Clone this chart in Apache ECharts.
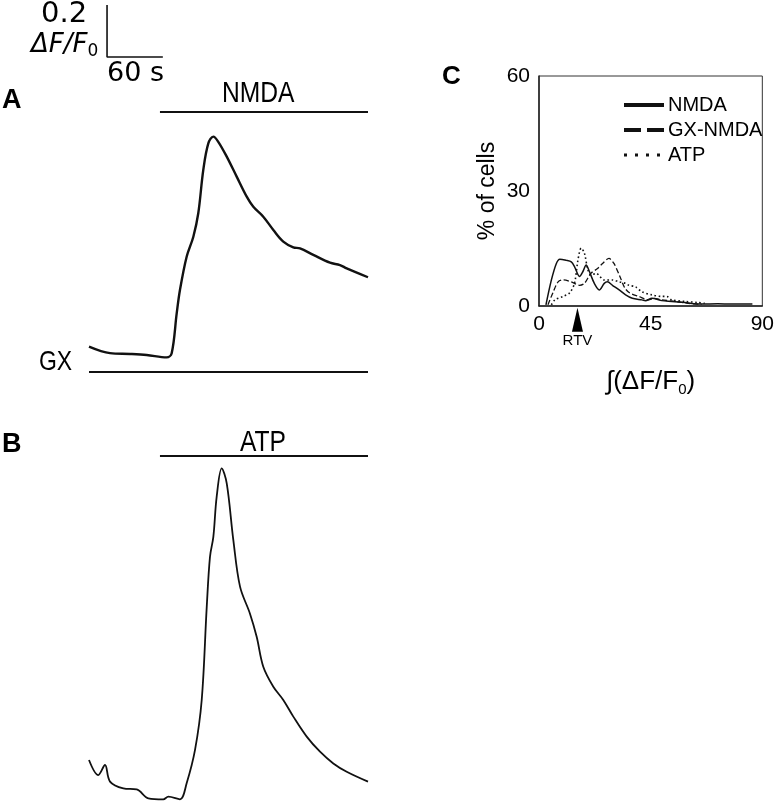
<!DOCTYPE html>
<html>
<head>
<meta charset="utf-8">
<script src="https://cdn.jsdelivr.net/npm/echarts@6/dist/echarts.min.js"></script>
<style>html,body{margin:0;padding:0;background:#fff}#c{width:777px;height:803px}</style>
</head>
<body>
<div id="c"></div>
<script>
// ---------- Panel A: NMDA trace (time s, F/F0) ----------
const timeA = [0, 22.6, 44.1, 62, 83.5, 88.9, 94.3, 97.8, 105, 112.2, 117.5, 122.9, 128.3, 133.7, 139, 148.1, 158.8, 169.6, 176.7, 187.4, 198.2, 208.9, 219.7, 226.9, 241.2, 259.1, 269.9, 277.1, 300];
const nmdaTrace = [1.032, 1.007, 1.004, 1.000, 0.991, 1.007, 1.160, 1.250, 1.378, 1.455, 1.545, 1.712, 1.814, 1.840, 1.820, 1.763, 1.686, 1.609, 1.570, 1.532, 1.481, 1.436, 1.414, 1.410, 1.385, 1.355, 1.346, 1.333, 1.299];
const nmdaPeriod = [76.3, 300];
const gxPeriod = [0, 300];

// ---------- Panel B: ATP trace ----------
const timeB = [0, 10, 17.2, 22.6, 36.9, 51.3, 63.8, 79.9, 85.3, 97.8, 105, 114, 121.2, 126.6, 130.1, 133.7, 137.3, 142.7, 148.1, 155.2, 162.4, 173.1, 180.3, 187.4, 198.2, 208.9, 219.7, 234.1, 248.4, 262.7, 277.1, 300];
const atpTrace = [1.151, 1.093, 1.132, 1.068, 1.042, 1.038, 1.004, 1.000, 1.010, 1.000, 1.062, 1.190, 1.382, 1.740, 1.933, 2.009, 2.164, 2.273, 2.215, 1.997, 1.818, 1.714, 1.625, 1.510, 1.433, 1.382, 1.318, 1.241, 1.183, 1.138, 1.106, 1.068];
const atpPeriod = [76.3, 300];

// ---------- Scale bar ----------
const scaleAmp = 0.2;   // ΔF/F0
const scaleTime = 60;   // s

// ---------- Panel C: distributions ----------
const histNmdaX = [2.8, 5.0, 7.0, 8.4, 11.0, 13.0, 14.3, 16.3, 17.7, 19.0, 20.3, 22.3, 24.3, 26.3, 27.6, 29.6, 32.3, 34.9, 37.6, 41.5, 42.9, 45.5, 49.5, 53.5, 58.8, 65.5, 72.1, 77.4, 84, 86];
const histNmdaY = [0.3, 6.8, 11.1, 12.2, 11.9, 11.5, 10.3, 7.7, 9.0, 10.7, 9.0, 5.9, 4.2, 5.9, 6.3, 5.4, 4.2, 2.9, 2.0, 1.6, 1.4, 2.0, 1.4, 1.2, 0.9, 0.5, 0.6, 0.5, 0.5, 0.5];
const histGxX = [3.6, 5.7, 7.7, 9.7, 13.0, 16.3, 18.3, 20.9, 23.6, 25.6, 28.2, 30.2, 32.6, 34.6, 36.6, 40.2, 44.2, 46.2, 49.5, 54.8, 60.1, 65.5];
const histGxY = [0.3, 3.6, 6.3, 6.8, 6.3, 5.4, 5.9, 8.5, 9.8, 11.1, 12.4, 11.1, 7.7, 4.7, 3.4, 2.5, 1.6, 2.0, 1.6, 1.2, 0.7, 0.4];
const histAtpX = [5.0, 6.4, 9.7, 12.3, 14.3, 15.7, 17.0, 18.3, 19.7, 21.0, 23.0, 26.3, 29.6, 32.3, 34.9, 36.3, 38.9, 41.5, 45.5, 49.5, 51.5, 53.5, 58.8, 64.1, 66.8];
const histAtpY = [0.3, 1.6, 2.5, 3.4, 5.9, 12.0, 15.1, 13.8, 9.4, 8.1, 8.5, 6.8, 6.8, 6.3, 5.9, 5.4, 5.0, 3.7, 2.9, 2.5, 2.5, 1.6, 1.2, 0.9, 0.7];
const rtvValue = 15.5;
const xTicksC = [0, 45, 90];
const yTicksC = [0, 30, 60];

const zip = (xs, ys) => xs.map((x, i) => [x, ys[i]]);
const F = "'Liberation Sans', Arial, sans-serif";
const D = "'DejaVu Sans', sans-serif";
const black = '#111';

const chart = echarts.init(document.getElementById('c'), null, {renderer: 'canvas'});

const nmdaLevel = 1.935, gxLevel = 0.935, atpLevel = 2.32;
const sbT0 = 19.4, sbV0 = 2.146;

chart.setOption({
  animation: false,
  backgroundColor: '#fff',
  grid: [
    {left: 89, width: 279, top: 121, height: 260},
    {left: 89, width: 279, top: 435.3, height: 366.6},
    {left: 539, right: 12, top: 76, height: 230, show: true, borderColor: '#333', borderWidth: 1}
  ],
  xAxis: [
    {gridIndex: 0, type: 'value', min: 0, max: 300, show: false},
    {gridIndex: 1, type: 'value', min: 0, max: 300, show: false},
    {gridIndex: 2, type: 'value', min: xTicksC[0], max: xTicksC[2], interval: 45,
     axisLine: {show: true, lineStyle: {color: '#222', width: 1.5}}, axisTick: {show: false}, splitLine: {show: false},
     axisLabel: {color: '#000', fontSize: 21, fontFamily: F, margin: 8},
     name: '{a|∫(ΔF/F}{s|0}{a|)}', nameLocation: 'middle', nameGap: 61,
     nameTextStyle: {rich: {a: {fontSize: 26, fontFamily: F, color: '#000'}, s: {fontSize: 15, fontFamily: F, color: '#000', verticalAlign: 'bottom', padding: [15, 0, 0, 0]}}}}
  ],
  yAxis: [
    {gridIndex: 0, type: 'value', min: 0.9, max: 1.9, show: false},
    {gridIndex: 1, type: 'value', min: 0.99, max: 2.4, show: false},
    {gridIndex: 2, type: 'value', min: yTicksC[0], max: yTicksC[2], interval: 30,
     axisLine: {show: true, lineStyle: {color: '#222', width: 1.5}}, axisTick: {show: false}, splitLine: {show: false},
     axisLabel: {color: '#000', fontSize: 21, fontFamily: F, margin: 9},
     name: '% of cells', nameLocation: 'middle', nameGap: 40, nameRotate: 90,
     nameTextStyle: {color: '#000', fontSize: 23, fontFamily: F}}
  ],
  legend: {
    left: 617, top: 90, orient: 'vertical', itemWidth: 40, itemHeight: 14, itemGap: 5,
    itemStyle: {color: 'rgba(0,0,0,0)', borderWidth: 0, opacity: 0},
    data: [
      {name: 'NMDA', lineStyle: {width: 4, type: 'solid', color: black}},
      {name: 'GX-NMDA', lineStyle: {width: 4, type: [17, 6], color: black}},
      {name: 'ATP', lineStyle: {width: 3, type: [3, 8], color: black}}
    ],
    textStyle: {color: '#000', fontSize: 20, fontFamily: F, padding: [0, 0, 0, -1]}
  },
  series: [
    {type: 'line', xAxisIndex: 0, yAxisIndex: 0, data: zip(timeA, nmdaTrace), smooth: 0.35, showSymbol: false,
     lineStyle: {color: black, width: 2.4}},
    {type: 'line', xAxisIndex: 0, yAxisIndex: 0, clip: false, data: nmdaPeriod.map(t => [t, nmdaLevel]), showSymbol: false,
     lineStyle: {color: black, width: 2}},
    {type: 'line', xAxisIndex: 0, yAxisIndex: 0, data: gxPeriod.map(t => [t, gxLevel]), showSymbol: false,
     lineStyle: {color: black, width: 2}},
    {type: 'line', xAxisIndex: 0, yAxisIndex: 0, clip: false, showSymbol: false,
     data: [[sbT0, sbV0 + scaleAmp], [sbT0, sbV0], [sbT0 + scaleTime, sbV0]],
     lineStyle: {color: black, width: 1.6}},
    {type: 'line', xAxisIndex: 1, yAxisIndex: 1, data: zip(timeB, atpTrace), smooth: 0.35, showSymbol: false,
     lineStyle: {color: black, width: 1.8}},
    {type: 'line', xAxisIndex: 1, yAxisIndex: 1, clip: false, data: atpPeriod.map(t => [t, atpLevel]), showSymbol: false,
     lineStyle: {color: black, width: 2}},
    {name: 'NMDA', type: 'line', xAxisIndex: 2, yAxisIndex: 2, data: zip(histNmdaX, histNmdaY), smooth: 0.3, symbol: 'none',
     itemStyle: {color: black}, lineStyle: {color: black, width: 1.5}},
    {name: 'GX-NMDA', type: 'line', xAxisIndex: 2, yAxisIndex: 2, data: zip(histGxX, histGxY), smooth: 0.3, symbol: 'none',
     itemStyle: {color: black}, lineStyle: {color: black, width: 1.3, type: 'dashed'}},
    {name: 'ATP', type: 'line', xAxisIndex: 2, yAxisIndex: 2, data: zip(histAtpX, histAtpY), smooth: 0.3, symbol: 'none',
     itemStyle: {color: black}, lineStyle: {color: black, width: 1.6, type: [1.6, 2.6]}},
    {type: 'scatter', xAxisIndex: 2, yAxisIndex: 2, clip: false, symbol: 'triangle', symbolSize: [11, 24],
     data: [[rtvValue, -3.6]], itemStyle: {color: '#000', opacity: 1}, silent: true,
     label: {show: true, position: 'bottom', distance: 2, formatter: 'RTV', color: '#000', fontSize: 15, fontFamily: F}}
  ],
  graphic: [
    {type: 'text', left: 41, top: 0, style: {text: '0.2', fontSize: 29, fontFamily: D, fill: '#000'}},
    {type: 'text', left: 31, top: 32, style: {text: '{i|ΔF/F}{s|0}', rich: {i: {fontSize: 26, fontStyle: 'italic', fontFamily: D, fill: '#000'}, s: {fontSize: 17, fontFamily: D, fill: '#000', padding: [14, 0, 0, 0]}}}},
    {type: 'text', left: 107, top: 60, style: {text: '60 s', fontSize: 27, fontFamily: D, fill: '#000'}},
    {type: 'text', left: 2, top: 87, style: {text: 'A', fontSize: 27, fontWeight: 'bold', fontFamily: F, fill: '#000'}},
    {type: 'text', left: 2, top: 431, style: {text: 'B', fontSize: 27, fontWeight: 'bold', fontFamily: F, fill: '#000'}},
    {type: 'text', left: 442, top: 64, style: {text: 'C', fontSize: 26, fontWeight: 'bold', fontFamily: F, fill: '#000'}},
    {type: 'text', x: 39, y: 348, scaleX: 0.82, style: {text: 'GX', fontSize: 28, fontFamily: F, fill: '#000'}},
    {type: 'text', x: 222, y: 79, scaleX: 0.82, style: {text: 'NMDA', fontSize: 30, fontFamily: F, fill: '#000'}},
    {type: 'text', x: 240, y: 428, scaleX: 0.82, style: {text: 'ATP', fontSize: 30, fontFamily: F, fill: '#000'}}
  ]
});
</script>
</body>
</html>
